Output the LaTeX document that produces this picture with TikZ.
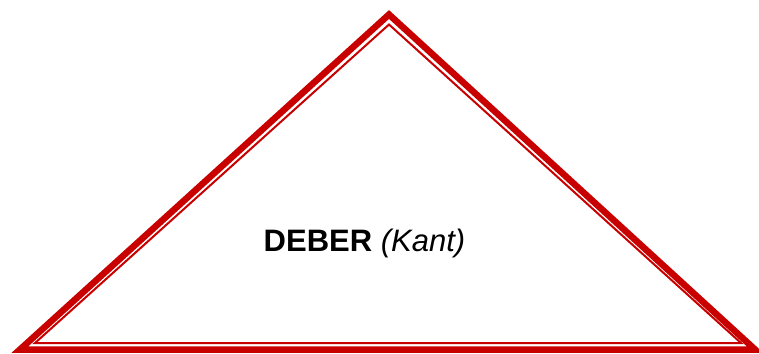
\documentclass[tikz,border=0pt]{standalone}
\usepackage{fontspec}
\setmainfont{Liberation Sans}
\definecolor{tri}{RGB}{200,0,0}
\begin{document}
\begin{tikzpicture}[x=1pt,y=-1pt,
  outerline/.style={draw=tri,line width=6.5pt,line join=miter},
  innerline/.style={draw=tri,line width=2pt,line join=miter},
  lbl/.style={font=\fontsize{31}{36}\selectfont,inner sep=0pt}]
\useasboundingbox (0,0) rectangle (759,353);
\coordinate (A) at (389,14.5);
\coordinate (B) at (20,349.5);
\coordinate (C) at (755,349.5);
\coordinate (a) at (389,24.5);
\coordinate (b) at (35,343);
\coordinate (c) at (741,343);
\draw[outerline] (A) -- (B) -- (C) -- cycle;
\draw[innerline] (a) -- (b) -- (c) -- cycle;
\node[lbl,anchor=base] (t) at (364.5,251.5) {\textbf{DEBER} \textit{(Kant)}};
\end{tikzpicture}
\end{document}
